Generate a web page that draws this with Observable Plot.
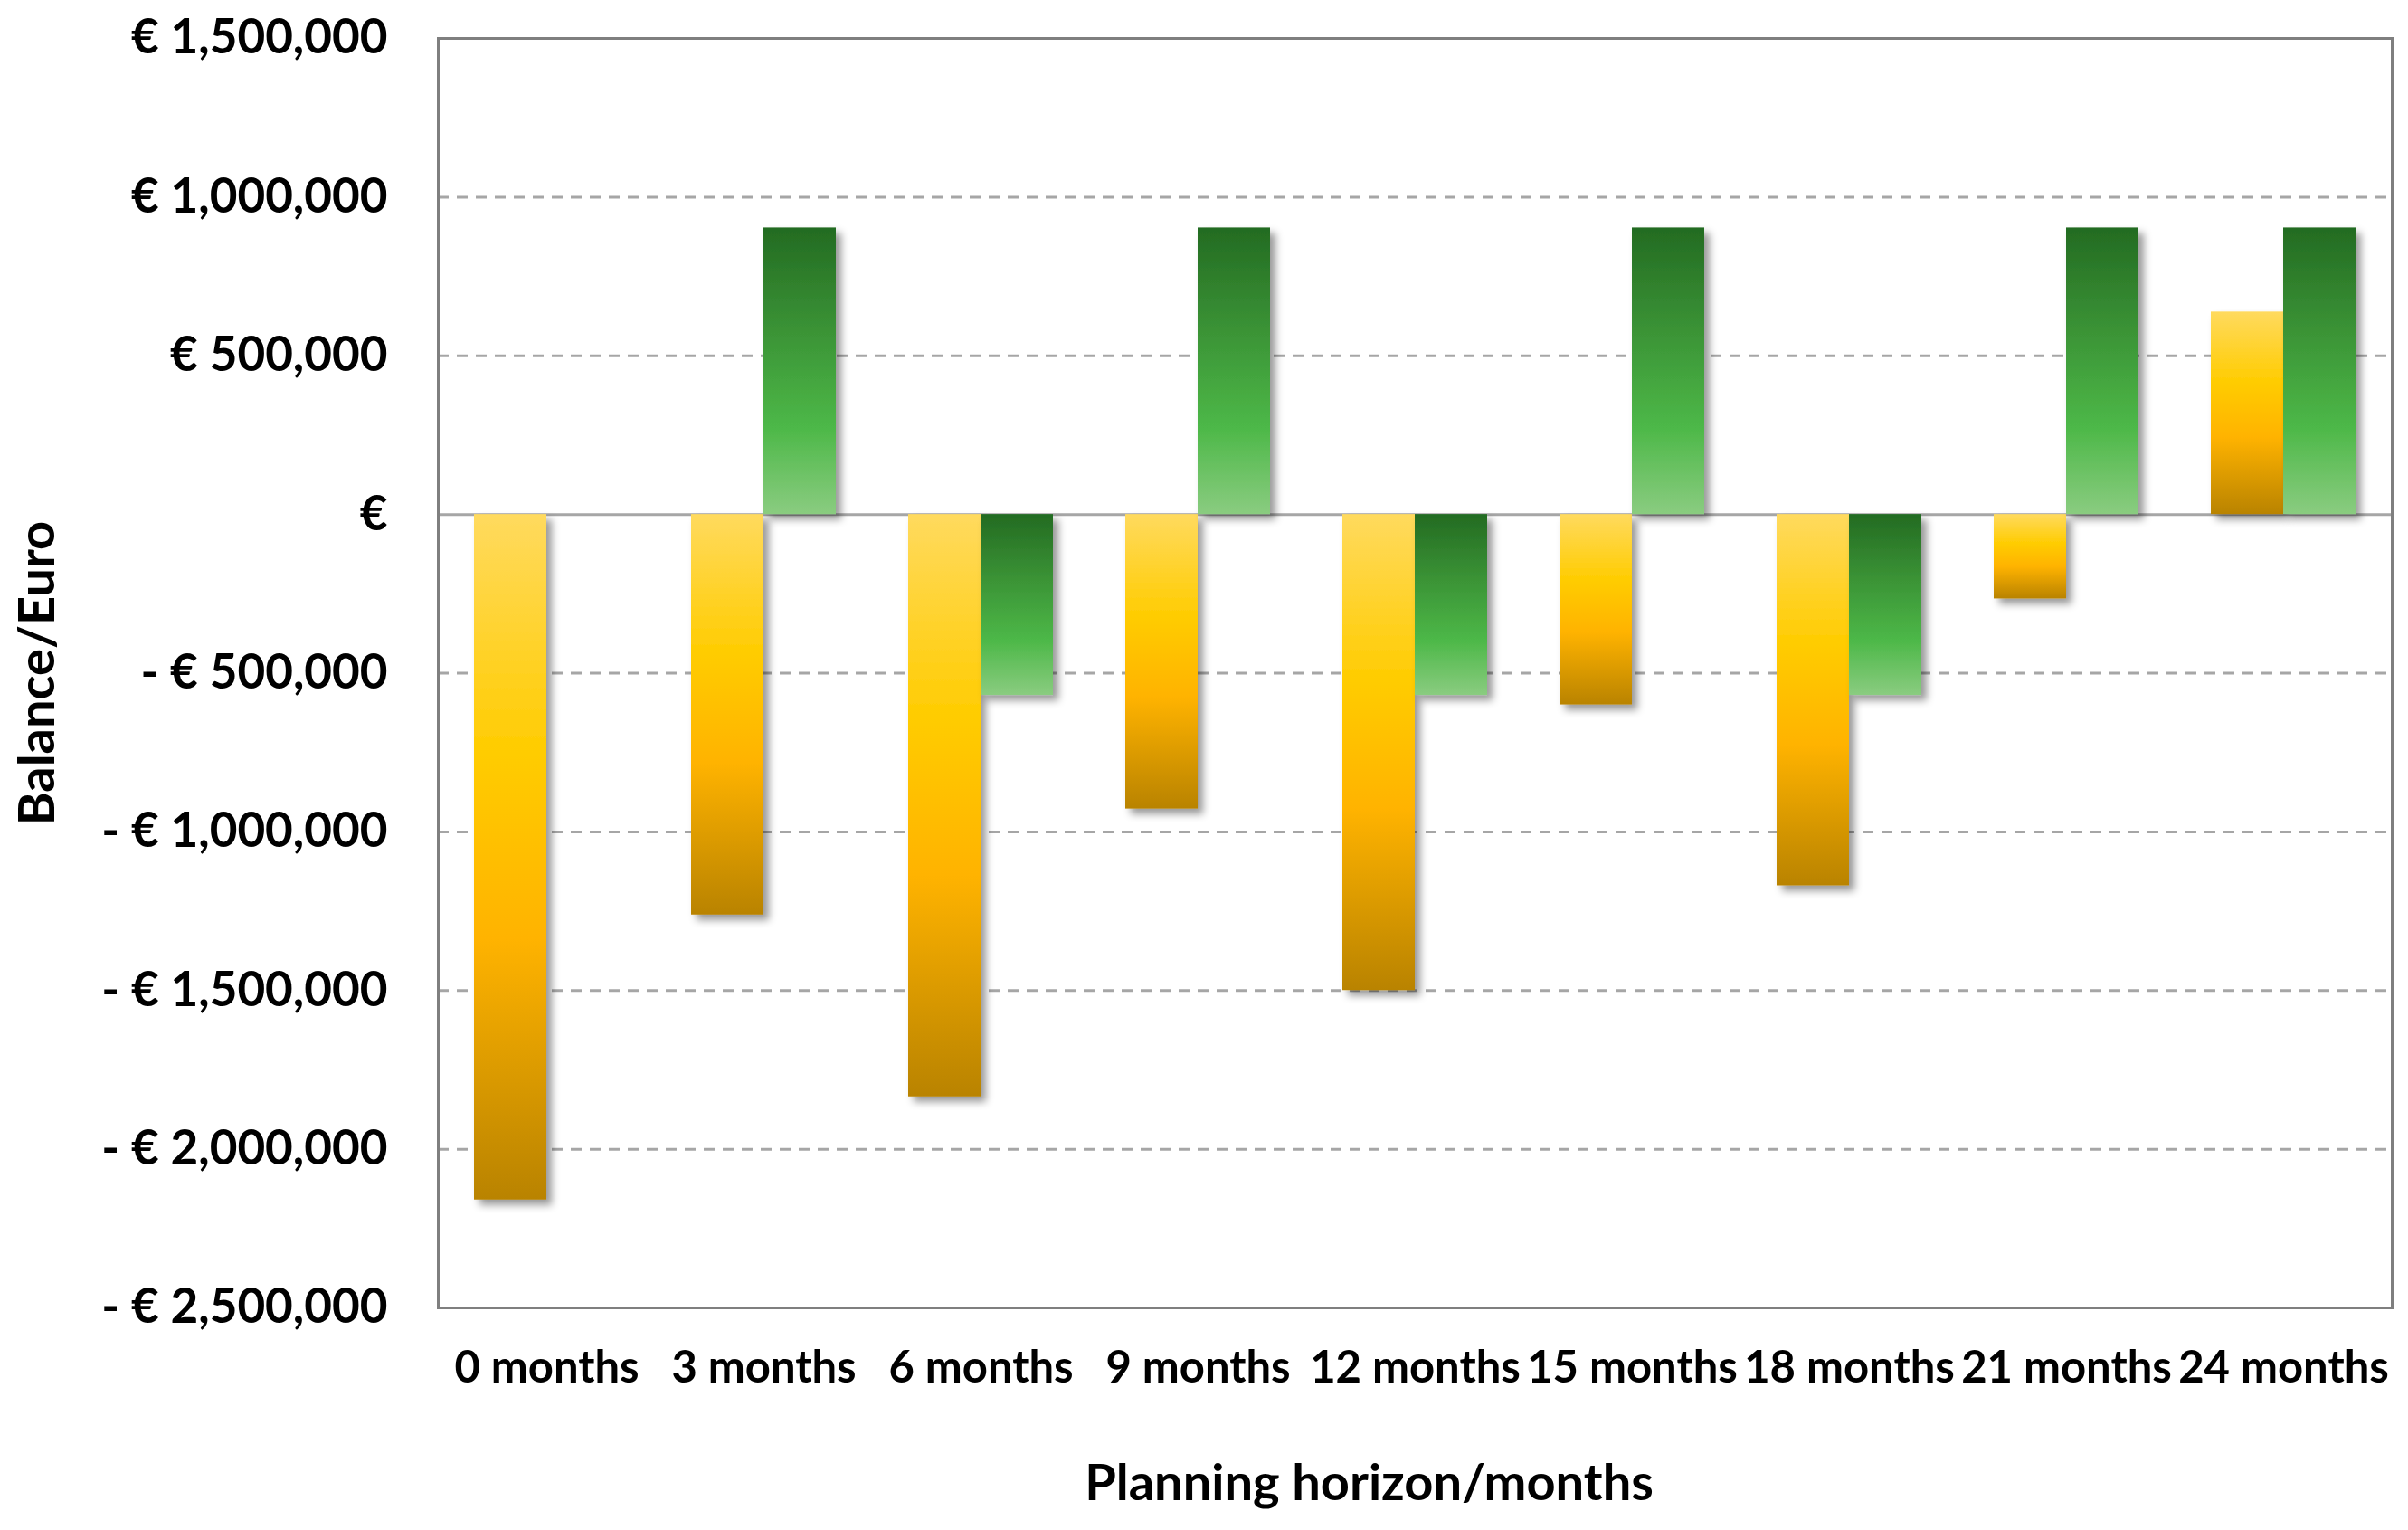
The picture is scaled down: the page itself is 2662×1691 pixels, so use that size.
<!DOCTYPE html>
<html><head><meta charset="utf-8">
<script src="https://cdn.jsdelivr.net/npm/d3@7"></script>
<script src="https://cdn.jsdelivr.net/npm/@observablehq/plot@0.6"></script>
<style>body{margin:0;background:#fff}</style>
</head><body><div id="chart"></div>
<script>
const categories = ["0 months","3 months","6 months","9 months","12 months","15 months","18 months","21 months","24 months"];
const seriesYellow = [-2160000, -1262000, -1835000, -928000, -1500000, -600000, -1170000, -266000, 638000];
const seriesGreen = [0, 903000, -570000, 903000, -570000, 903000, -570000, 903000, 903000];
const yTicks = [1500000, 1000000, 500000, 0, -500000, -1000000, -1500000, -2000000, -2500000];
const yTickLabels = ["€ 1,500,000","€ 1,000,000","€ 500,000","€","- € 500,000","- € 1,000,000","- € 1,500,000","- € 2,000,000","- € 2,500,000"];
const yGrid = [1000000, 500000, -500000, -1000000, -1500000, -2000000];
const xTitle = "Planning horizon/months";
const yTitle = "Balance/Euro";

const rows = categories.map((c, i) => ({category: c, yellow: seriesYellow[i], green: seriesGreen[i]}));

const W = 2662, H = 1691, ml = 484, mr = 18, mt = 42, mb = 246;
const half = (W - ml - mr) / 27;

const chart = Plot.plot({
  width: W, height: H,
  marginLeft: ml, marginRight: mr, marginTop: mt, marginBottom: mb,
  style: {fontFamily: "Lato, 'Liberation Sans', sans-serif", fontWeight: "bold", fontSize: "50px", background: "#fff", color: "#000"},
  x: {type: "band", domain: categories, paddingInner: 1/3, paddingOuter: 1/6, align: 0.5},
  y: {domain: [-2500000, 1500000]},
  marks: [
    Plot.ruleY(yGrid, {stroke: "#A6A6A6", strokeWidth: 3, strokeDasharray: "12,9"}),
    Plot.ruleY([0], {stroke: "#A6A6A6", strokeWidth: 3}),
    Plot.barY(rows, {x: "category", y: "yellow", fill: "url(#gradYellow)", insetRight: half}),
    Plot.barY(rows, {x: "category", y: "green", fill: "url(#gradGreen)", insetLeft: half}),
    Plot.frame({stroke: "#7F7F7F", strokeWidth: 3}),
    Plot.axisX({tickSize: 0, tickPadding: 48, label: null, fontSize: 49}),
    Plot.axisY({ticks: yTicks, tickFormat: d => yTickLabels[yTicks.indexOf(d)], tickSize: 0, tickPadding: 56, label: null, fontSize: 53}),
    Plot.text([xTitle], {frameAnchor: "bottom", dy: 212, dx: -51, fontSize: 56}),
    Plot.text([yTitle], {frameAnchor: "left", textAnchor: "middle", rotate: -90, dx: -442, fontSize: 56})
  ]
});

const svg = d3.select(chart);
const defs = svg.insert("defs", ":first-child");
const gy = defs.append("linearGradient").attr("id", "gradYellow").attr("x1", 0).attr("y1", 0).attr("x2", 0).attr("y2", 1);
[[0, "#FFDA5E"], [0.35, "#FFCC00"], [0.62, "#FFB300"], [1, "#B98300"]].forEach(([o, c]) => gy.append("stop").attr("offset", o).attr("stop-color", c));
const gg = defs.append("linearGradient").attr("id", "gradGreen").attr("x1", 0).attr("y1", 0).attr("x2", 0).attr("y2", 1);
[[0, "#236B22"], [0.35, "#3A9235"], [0.7, "#4DB848"], [1, "#8ACC80"]].forEach(([o, c]) => gg.append("stop").attr("offset", o).attr("stop-color", c));
const f = defs.append("filter").attr("id", "shadow").attr("x", "-10%").attr("y", "-10%").attr("width", "130%").attr("height", "130%");
f.append("feDropShadow").attr("dx", 6).attr("dy", 6).attr("stdDeviation", 4).attr("flood-color", "#000").attr("flood-opacity", 0.4);
svg.selectAll('g[aria-label="bar"]').attr("filter", "url(#shadow)");

document.getElementById("chart").appendChild(chart);
</script></body></html>
